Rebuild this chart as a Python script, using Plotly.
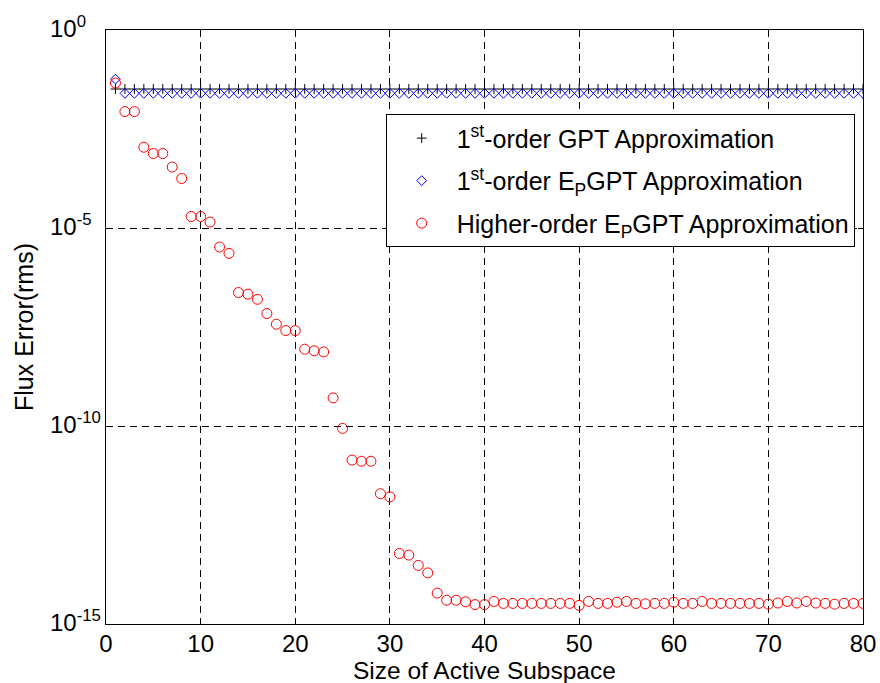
import plotly.graph_objects as go

# Size of the active subspace
sizes = list(range(1, 81))

# log10 of the rms flux error for each approximation
gpt_first_log = [-1.49] * 80
epgpt_first_log = [-1.24] + [-1.60] * 79
epgpt_higher_log = [
    -1.34, -2.06, -2.06, -2.96, -3.12, -3.12, -3.46, -3.75, -4.71, -4.71,
    -4.85, -5.48, -5.64, -6.63, -6.67, -6.80, -7.16, -7.43, -7.59, -7.59,
    -8.06, -8.10, -8.13, -9.29, -10.06, -10.86, -10.89, -10.89, -11.71, -11.79,
    -13.22, -13.26, -13.52, -13.71, -14.22, -14.40, -14.40, -14.44, -14.51, -14.51,
    -14.43, -14.48, -14.48, -14.48, -14.48, -14.48, -14.48, -14.48, -14.48, -14.53,
    -14.43, -14.48, -14.48, -14.45, -14.43, -14.48, -14.49, -14.48, -14.48, -14.45,
    -14.48, -14.48, -14.43, -14.48, -14.48, -14.48, -14.48, -14.48, -14.48, -14.50,
    -14.47, -14.43, -14.47, -14.43, -14.47, -14.48, -14.50, -14.48, -14.48, -14.48,
]

series_names = [
    "1<sup>st</sup>-order GPT Approximation",
    "1<sup>st</sup>-order E<sub>P</sub>GPT Approximation",
    "Higher-order E<sub>P</sub>GPT Approximation",
]

x_ticks = list(range(0, 81, 10))
y_tick_exps = [0, -5, -10, -15]
y_tick_labels = ["10<sup>0</sup>", "10<sup>-5</sup>", "10<sup>-10</sup>", "10<sup>-15</sup>"]
x_title = "Size of Active Subspace"
y_title = "Flux Error(rms)"

FONT = "Liberation Sans, Arial, Helvetica, sans-serif"
TICK_SIZE = 24
TITLE_SIZE = 25

fig = go.Figure()
fig.add_trace(go.Scatter(
    x=sizes, y=[10 ** v for v in gpt_first_log], mode="markers", name=series_names[0],
    legendgroup="a",
    marker=dict(symbol="cross-thin-open", size=7, color="black", line=dict(color="black", width=1)),
))
fig.add_trace(go.Scatter(
    x=sizes, y=[10 ** v for v in epgpt_first_log], mode="markers", name=series_names[1],
    legendgroup="b",
    marker=dict(symbol="diamond-open", size=7.5, color="blue", line=dict(color="blue", width=1)),
))
fig.add_trace(go.Scatter(
    x=sizes, y=[10 ** v for v in epgpt_higher_log], mode="markers", name=series_names[2],
    legendgroup="c",
    marker=dict(symbol="circle-open", size=10, color="red", line=dict(color="red", width=1)),
))

# y tick labels: base "10" left-aligned with exponent trailing
for e, lab in zip(y_tick_exps, y_tick_labels):
    fig.add_annotation(
        x=-0.077, xref="paper", xanchor="left",
        y=e, yref="y", yanchor="middle", yshift=3,
        text=lab, showarrow=False,
        font=dict(family=FONT, size=TICK_SIZE, color="black"),
    )

# x axis title, placed just under the tick labels
fig.add_annotation(
    x=0.5, xref="paper", xanchor="center",
    y=0, yref="paper", yanchor="middle", yshift=-46,
    text=x_title, showarrow=False,
    font=dict(family=FONT, size=24.5, color="black"),
)

fig.update_layout(
    width=880, height=683,
    margin=dict(l=106, r=17, t=30, b=59),
    paper_bgcolor="white", plot_bgcolor="white",
    font=dict(family=FONT, size=TICK_SIZE, color="black"),
    showlegend=True,
    legend=dict(
        x=0.3695, y=0.858, xanchor="left", yanchor="top",
        bgcolor="white", bordercolor="black", borderwidth=1,
        font=dict(family=FONT, size=25, color="black"),
        itemwidth=60, tracegroupgap=7,
    ),
)
fig.update_xaxes(
    range=[0, 80], tickvals=x_ticks, ticks="inside", ticklen=5, tickcolor="black",
    showline=True, linecolor="black", linewidth=1, mirror="ticks",
    showgrid=True, gridcolor="black", gridwidth=1, griddash="7px,5px",
    zeroline=False, automargin=False, ticklabelstandoff=-2,
    tickfont=dict(family=FONT, size=TICK_SIZE, color="black"),
)
fig.update_yaxes(
    type="log", range=[-15, 0], tickvals=[10 ** e for e in y_tick_exps],
    showticklabels=False, automargin=False,
    ticks="inside", ticklen=5, tickcolor="black",
    showline=True, linecolor="black", linewidth=1, mirror="ticks",
    showgrid=True, gridcolor="black", gridwidth=1, griddash="7px,5px",
    zeroline=False, minor=dict(ticks="", showgrid=False),
    title=dict(text=y_title, font=dict(family=FONT, size=TITLE_SIZE, color="black"), standoff=64),
)

fig.write_html("out.html")
